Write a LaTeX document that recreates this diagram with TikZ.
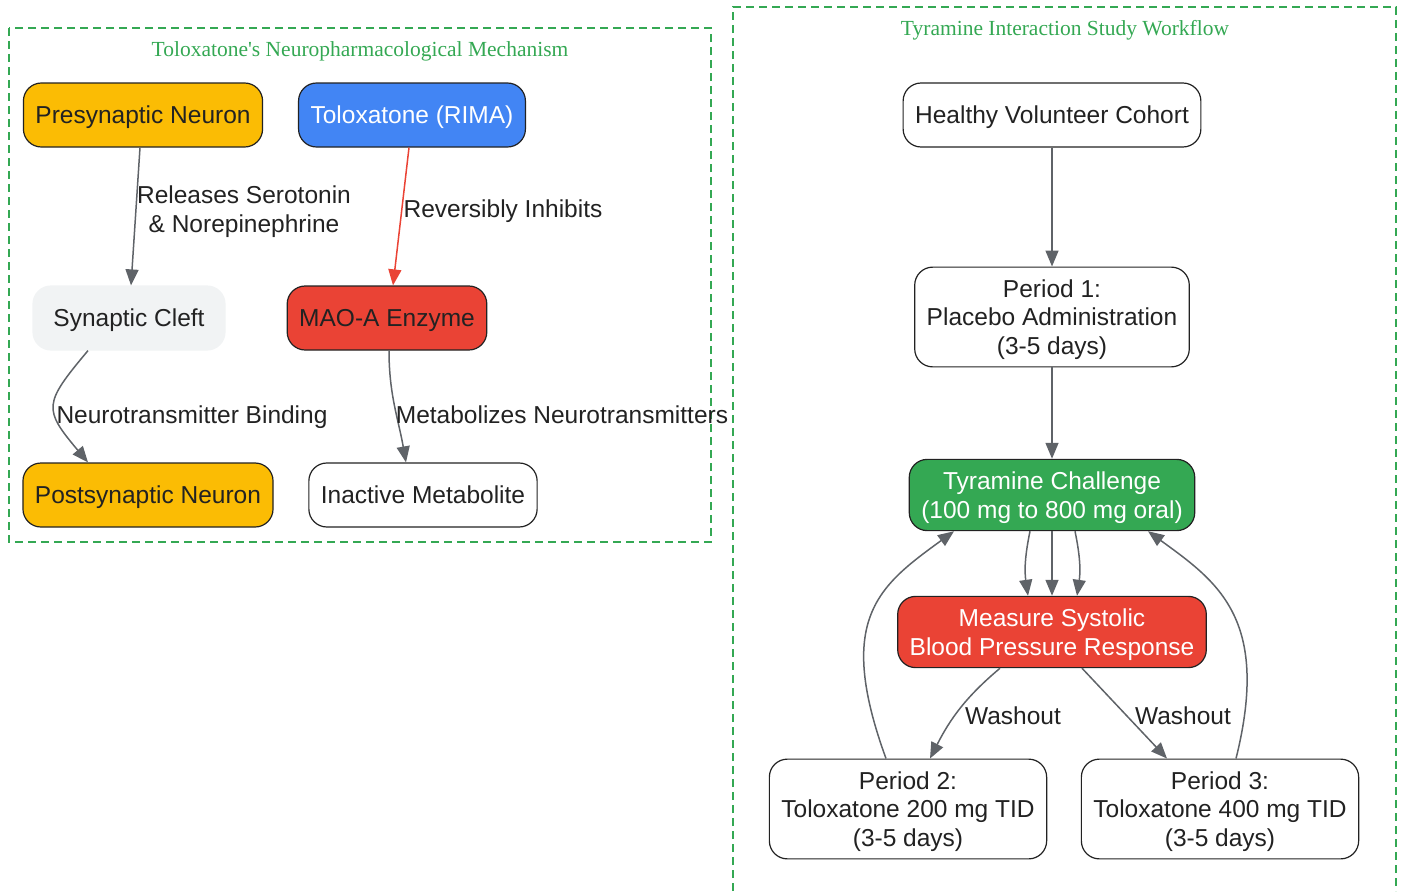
\documentclass[tikz,border=0pt]{standalone}
\usepackage{fontspec}
\setmainfont{Liberation Sans}
\newfontfamily\titlefont[Ligatures=TeXOff]{Liberation Serif}
\usepackage{xcolor}
\usetikzlibrary{arrows.meta,positioning}

\definecolor{gyellow}{HTML}{FBBC04}
\definecolor{gblue}{HTML}{4285F4}
\definecolor{gred}{HTML}{EA4335}
\definecolor{ggreen}{HTML}{34A853}
\definecolor{glight}{HTML}{F1F3F4}
\definecolor{edgegray}{HTML}{5F6368}
\definecolor{ink}{HTML}{222222}

\begin{document}
\begin{tikzpicture}[x=1pt, y=1pt,
  every node/.style={font=\fontsize{24.5}{28.5}\selectfont, text=ink, text depth=0pt},
  block/.style={draw=ink, line width=1.2pt, rounded corners=18pt, align=center,
    inner xsep=12pt, inner ysep=12.5pt, minimum height=64pt},
  flow/.style={draw=edgegray, line width=1.5pt, -{Triangle[length=16pt,width=13pt]}},
  elabel/.style={align=center},
  cluster/.style={draw=ggreen, line width=1.3pt, dash pattern=on 8pt off 5pt},
  ctitle/.style={font=\titlefont\fontsize{21.5}{25}\selectfont, text=ggreen}]
  \useasboundingbox (0,0) rectangle (1402,-891);
  % Clusters
  \draw[cluster] (9,-28) rectangle (711,-542);
  \draw[cluster] (733,-891) |- (1396,-7) -- (1396,-891);
  \node[ctitle] (mechTitle) at (360,-49) {Toloxatone's Neuropharmacological Mechanism};
  \node[ctitle] (studyTitle) at (1065,-28) {Tyramine Interaction Study Workflow};
  % Mechanism
  \node[block, fill=gyellow] (pre) at (143,-115) {Presynaptic Neuron};
  \node[block, fill=gblue, text=white] (tolox) at (412,-115) {Toloxatone (RIMA)};
  \node[block, draw=glight, fill=glight, minimum width=192pt] (cleft) at (129,-318) {Synaptic Cleft};
  \node[block, fill=gred] (mao) at (387,-318) {MAO-A Enzyme};
  \node[block, fill=gyellow] (post) at (148,-495) {Postsynaptic Neuron};
  \node[block, fill=white] (inact) at (423,-495) {Inactive Metabolite};
  \draw[flow] ([xshift=-3pt]pre.south) -- ([xshift=2pt]cleft.north);
  \draw[flow, draw=gred] ([xshift=-3pt]tolox.south) -- ([xshift=6pt]mao.north);
  \draw[flow] ([xshift=-41pt]cleft.south) to[out=230, in=130, looseness=1.6] ([xshift=-60pt]post.north);
  \draw[flow] ([xshift=2pt]mao.south) to[out=-90, in=100] ([xshift=-17pt]inact.north);
  \node[elabel] (relLbl) at (244,-209) {Releases Serotonin\\\& Norepinephrine};
  \node[elabel] (inhLbl) at (503,-209) {Reversibly Inhibits};
  \node[elabel] (bindLbl) at (192,-415) {Neurotransmitter Binding};
  \node[elabel] (metLbl) at (562,-415) {Metabolizes Neurotransmitters};
  % Study workflow
  \node[block, fill=white] (cohort) at (1052,-115) {Healthy Volunteer Cohort};
  \node[block, fill=white] (p1) at (1052,-317) {Period 1:\\Placebo Administration\\(3-5 days)};
  \node[block, fill=ggreen, text=white] (tyr) at (1052,-495) {Tyramine Challenge\\(100 mg to 800 mg oral)};
  \node[block, fill=gred, text=white] (bp) at (1052,-632) {Measure Systolic\\Blood Pressure Response};
  \node[block, fill=white] (p2) at (908,-809) {Period 2:\\Toloxatone 200 mg TID\\(3-5 days)};
  \node[block, fill=white] (p3) at (1220,-809) {Period 3:\\Toloxatone 400 mg TID\\(3-5 days)};
  \draw[flow] (cohort.south) -- (p1.north);
  \draw[flow] (p1.south) -- (tyr.north);
  \draw[flow] ([xshift=-22pt]tyr.south) to[bend right=10] ([xshift=-24pt]bp.north);
  \draw[flow] (tyr.south) -- (bp.north);
  \draw[flow] ([xshift=23pt]tyr.south) to[bend left=10] ([xshift=25pt]bp.north);
  \draw[flow] ([xshift=-52pt]bp.south) to[out=220, in=63] ([xshift=22pt]p2.north);
  \draw[flow] ([xshift=30pt]bp.south) -- ([xshift=-53pt]p3.north);
  \draw[flow] ([xshift=-22pt]p2.north) to[out=110, in=216, out distance=149pt, in distance=93pt] ([xshift=-98pt]tyr.south);
  \draw[flow] ([xshift=16pt]p3.north) to[out=76, in=324, out distance=144pt, in distance=86pt] ([xshift=96pt]tyr.south);
  \node[elabel] (washA) at (1013,-716) {Washout};
  \node[elabel] (washB) at (1183,-716) {Washout};
\end{tikzpicture}
\end{document}
